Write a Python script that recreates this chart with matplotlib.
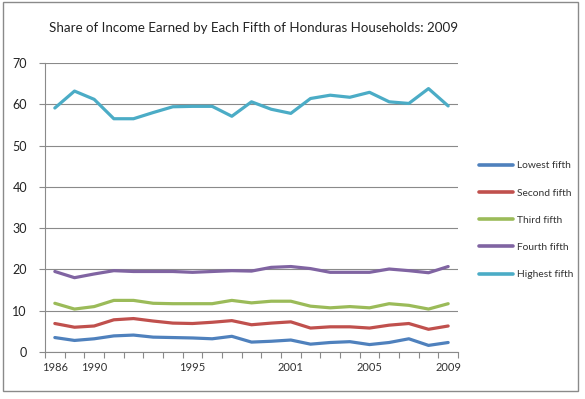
"""
plot.py

Share of income earned by each fifth of Honduras households, 1986-2009.
"""
import matplotlib
matplotlib.use("Agg")
import matplotlib.pyplot as plt
from matplotlib.patches import Rectangle
import numpy as np

plt.rcParams["font.family"] = ["Lato", "DejaVu Sans"]

# survey years (category axis, not evenly spaced in time)
years = [1986, 1989, 1990, 1991, 1992, 1993, 1994, 1995, 1996, 1997, 1998,
         1999, 2001, 2002, 2003, 2004, 2005, 2006, 2007, 2008, 2009]
shown_years = [1986, 1990, 1995, 2001, 2005, 2009]

lowest = [3.5, 2.8, 3.2, 3.9, 4.1, 3.6, 3.5, 3.4, 3.2, 3.8, 2.4,
          2.6, 2.9, 1.9, 2.3, 2.5, 1.8, 2.3, 3.2, 1.6, 2.3]
second = [6.9, 6.0, 6.3, 7.8, 8.1, 7.5, 7.0, 6.9, 7.2, 7.6, 6.6,
          7.0, 7.3, 5.8, 6.1, 6.1, 5.8, 6.5, 6.9, 5.5, 6.3]
third = [11.8, 10.4, 11.0, 12.5, 12.5, 11.8, 11.7, 11.7, 11.7, 12.5, 11.9,
         12.3, 12.3, 11.1, 10.7, 11.0, 10.7, 11.7, 11.3, 10.4, 11.7]
fourth = [19.5, 18.0, 18.9, 19.7, 19.5, 19.5, 19.5, 19.3, 19.5, 19.7, 19.6,
          20.5, 20.7, 20.2, 19.3, 19.3, 19.3, 20.1, 19.7, 19.2, 20.7]
highest = [59.1, 63.2, 61.2, 56.5, 56.5, 58.0, 59.4, 59.5, 59.5, 57.1, 60.6,
           58.8, 57.8, 61.4, 62.2, 61.7, 62.9, 60.6, 60.2, 63.8, 59.6]

series = [
    ("Lowest fifth", lowest, "#4F81BD"),
    ("Second fifth", second, "#C0504D"),
    ("Third fifth", third, "#9BBB59"),
    ("Fourth fifth", fourth, "#8064A2"),
    ("Highest fifth", highest, "#4BACC6"),
]

fig = plt.figure(figsize=(5.85, 3.99), dpi=100)
ax = fig.add_axes([45 / 585, 1 - 352 / 399, 413 / 585, 289 / 399])

x = np.arange(len(years))
for name, vals, color in series:
    ax.plot(x, vals, color=color, linewidth=2.3, label=name,
            solid_capstyle="round", solid_joinstyle="round")

ax.set_xlim(-0.5, len(years) - 0.5)
ax.set_ylim(0, 70)
ax.set_yticks(range(0, 71, 10))
ax.yaxis.grid(True, color="#8a8a8a", linewidth=0.8)
ax.set_axisbelow(True)

# labels at selected categories, tick marks on category boundaries
ax.set_xticks([years.index(y) for y in shown_years])
ax.set_xticklabels([str(y) for y in shown_years])
ax.set_xticks(np.arange(len(years) + 1) - 0.5, minor=True)
ax.tick_params(axis="x", which="major", length=0, pad=7, labelsize=8, colors="#333333")
ax.tick_params(axis="x", which="minor", length=4, width=0.8, color="#8a8a8a", direction="out")
ax.tick_params(axis="y", length=4, width=0.8, color="#8a8a8a", labelsize=9, pad=9,
               labelcolor="#222222")

for side in ("top", "right"):
    ax.spines[side].set_visible(False)
for side in ("left", "bottom"):
    ax.spines[side].set_color("#8a8a8a")
    ax.spines[side].set_linewidth(0.8)

fig.text(253.5 / 585, 1 - 28 / 399, "Share of Income Earned by Each Fifth of Honduras Households: 2009",
         ha="center", va="center", fontsize=9.6, color="#222222")

leg = fig.legend(loc="upper left", bbox_to_anchor=(470 / 585, 1 - 152 / 399),
                 frameon=False, fontsize=7.4, handlelength=3.3, handletextpad=0.35,
                 labelspacing=1.75)
for line in leg.get_lines():
    line.set_linewidth(2.6)
for t in leg.get_texts():
    t.set_color("#333333")

# outer chart border
fig.patches.append(Rectangle((3 / 585, 1 - 391 / 399), 575 / 585, 389 / 399,
                             transform=fig.transFigure, fill=False,
                             edgecolor="#8a8a8a", linewidth=1.0))

fig.savefig("out.png", dpi=100)
